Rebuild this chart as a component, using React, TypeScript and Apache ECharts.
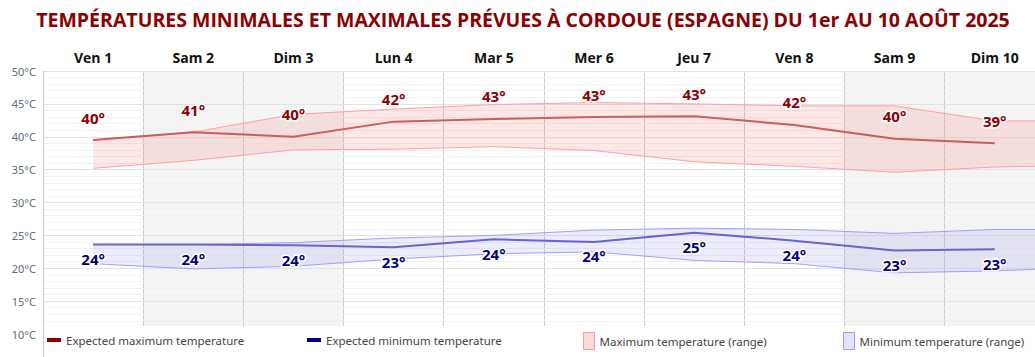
import React, { useEffect, useRef } from "react";
import * as echarts from "echarts";

const days = ["Ven 1", "Sam 2", "Dim 3", "Lun 4", "Mar 5", "Mer 6", "Jeu 7", "Ven 8", "Sam 9", "Dim 10", "Lun 11"];
const weekendColors = ["#ffffff", "#f4f4f4", "#f4f4f4", "#ffffff", "#ffffff", "#ffffff", "#ffffff", "#ffffff", "#f4f4f4", "#f4f4f4", "#ffffff"];

const maxExpected = [39.5, 40.7, 40.0, 42.3, 42.7, 43.0, 43.1, 41.8, 39.7, 39.0];
const maxLabels = [40, 41, 40, 42, 43, 43, 43, 42, 40, 39];
const maxRangeHigh = [39.5, 40.7, 43.4, 44.2, 44.9, 45.2, 45.0, 44.7, 44.7, 42.4, 42.4];
const maxRangeLow = [35.2, 36.4, 38.0, 38.1, 38.5, 37.9, 36.2, 35.5, 34.6, 35.4, 35.7];

const minExpected = [23.6, 23.6, 23.5, 23.2, 24.4, 24.0, 25.4, 24.2, 22.7, 22.9];
const minLabels = [24, 24, 24, 23, 24, 24, 25, 24, 23, 23];
const minRangeHigh = [23.6, 23.6, 23.9, 24.6, 25.0, 25.8, 26.1, 25.9, 25.3, 25.9, 25.9];
const minRangeLow = [20.7, 19.9, 20.3, 21.4, 22.2, 22.5, 21.2, 20.7, 19.3, 19.6, 20.2];

const yTicks = { min: 10, max: 50, interval: 5 };
const visibleDays = 10;

const TITLE = "TEMPÉRATURES MINIMALES ET MAXIMALES PRÉVUES À CORDOUE (ESPAGNE) DU 1er AU 10 AOÛT 2025";
const N_MAX = "Expected maximum temperature";
const N_MIN = "Expected minimum temperature";
const N_MAXR = "Maximum temperature (range)";
const N_MINR = "Minimum temperature (range)";

export default function App() {
  const ref = useRef<HTMLDivElement>(null);
  useEffect(() => {
    if (!ref.current) return;
    const chart = echarts.init(ref.current, null, { renderer: "svg" });
    const diff = (hi: number[], lo: number[]) => hi.map((v, i) => +(v - lo[i]).toFixed(2));
    const font = "Open Sans";
    const legendText = { fontFamily: "Noto Sans", fontSize: 11.5, color: "#444" };
    const option: any = {
      animation: false,
      backgroundColor: "#ffffff",
      title: {
        text: TITLE,
        left: 518,
        textAlign: "center",
        top: 4,
        textStyle: { fontFamily: font, fontSize: 19.5, fontWeight: "bold", color: "#8b0000" },
      },
      legend: [
        {
          left: 42, top: 329, z: 200, itemWidth: 14, itemHeight: 4, selectedMode: false,
          textStyle: legendText,
          data: [{ name: N_MAX, icon: "rect", itemStyle: { color: "#8b0000" } }],
        },
        {
          left: 302, top: 329, z: 200, itemWidth: 14, itemHeight: 4, selectedMode: false,
          textStyle: legendText,
          data: [{ name: N_MIN, icon: "rect", itemStyle: { color: "#00008b" } }],
        },
        {
          left: 578, top: 327, z: 200, itemWidth: 11, itemHeight: 17, selectedMode: false,
          textStyle: legendText,
          data: [{ name: N_MAXR, icon: "rect", itemStyle: { color: "#f9dada", borderColor: "#ff9999", borderWidth: 1 } }],
        },
        {
          left: 838, top: 327, z: 200, itemWidth: 11, itemHeight: 17, selectedMode: false,
          textStyle: legendText,
          data: [{ name: N_MINR, icon: "rect", itemStyle: { color: "#e2e2fa", borderColor: "#9999ff", borderWidth: 1 } }],
        },
      ],
      grid: { left: 43, top: 71, width: 1102, bottom: 23 },
      xAxis: {
        type: "category",
        position: "top",
        data: days,
        boundaryGap: true,
        z: 0,
        axisLine: { show: false },
        axisTick: { show: false },
        axisLabel: {
          interval: (i: number) => i < visibleDays,
          margin: 7, fontFamily: font, fontSize: 14, fontWeight: "bold", color: "#111",
        },
        splitLine: { show: true, interval: 0, lineStyle: { color: "#cccccc", width: 1 } },
        splitArea: { show: true, interval: 0, areaStyle: { color: weekendColors } },
      },
      yAxis: {
        type: "value",
        min: yTicks.min,
        max: yTicks.max,
        interval: yTicks.interval,
        z: 1,
        axisLine: { show: true, lineStyle: { color: "#cccccc" } },
        axisTick: { show: false },
        axisLabel: { formatter: "{value}°C", margin: 7, fontFamily: "Noto Sans", fontSize: 11, color: "#5f6b7a" },
        splitLine: { show: true, lineStyle: { color: "#e2e2e2", width: 1 } },
        minorTick: { show: false, splitNumber: 5 },
        minorSplitLine: { show: true, lineStyle: { color: "#f0f0f0", width: 1 } },
      },
      series: [
        {
          name: "maxLow", type: "line", stack: "max", data: maxRangeLow, symbol: "none",
          lineStyle: { color: "#ff9f9f", width: 1 }, z: 2, silent: true,
        },
        {
          name: N_MAXR, type: "line", stack: "max", data: diff(maxRangeHigh, maxRangeLow), symbol: "none",
          lineStyle: { color: "#ff9f9f", width: 1 }, areaStyle: { color: "rgba(250,120,120,0.25)" },
          itemStyle: { color: "#f9dada" }, z: 2, silent: true,
        },
        {
          name: "minLow", type: "line", stack: "min", data: minRangeLow, symbol: "none",
          lineStyle: { color: "#9f9fff", width: 1 }, z: 2, silent: true,
        },
        {
          name: N_MINR, type: "line", stack: "min", data: diff(minRangeHigh, minRangeLow), symbol: "none",
          lineStyle: { color: "#9f9fff", width: 1 }, areaStyle: { color: "rgba(120,120,240,0.2)" },
          itemStyle: { color: "#e2e2fa" }, z: 2, silent: true,
        },
        {
          name: N_MAX, type: "line", data: maxExpected, symbol: "circle", symbolSize: 0, showSymbol: true,
          lineStyle: { color: "#cd5c5c", width: 2 }, itemStyle: { color: "#8b0000" }, z: 5,
          label: {
            show: true, position: "top", distance: 15,
            formatter: (p: any) => maxLabels[p.dataIndex] + "°",
            fontFamily: font, fontSize: 15, fontWeight: "bold", color: "#8b0000",
            textBorderColor: "#ffffff", textBorderWidth: 3,
          },
        },
        {
          name: N_MIN, type: "line", data: minExpected, symbol: "circle", symbolSize: 0, showSymbol: true,
          lineStyle: { color: "#6666cc", width: 2 }, itemStyle: { color: "#00008b" }, z: 5,
          label: {
            show: true, position: "bottom", distance: 7,
            formatter: (p: any) => minLabels[p.dataIndex] + "°",
            fontFamily: font, fontSize: 15, fontWeight: "bold", color: "#000080",
            textBorderColor: "#ffffff", textBorderWidth: 3,
          },
        },
      ],
      graphic: [
        { type: "rect", z: 100, shape: { x: 44, y: 326, width: 1110, height: 31 }, style: { fill: "#ffffff" } },
        { type: "line", z: 100, shape: { x1: 43.5, y1: 330, x2: 43.5, y2: 357 }, style: { stroke: "#cccccc", lineWidth: 1 } },
      ],
    };
    chart.setOption(option);
    return () => chart.dispose();
  }, []);
  return (
    <div style={{ position: "absolute", left: 0, top: 0, width: 1035, height: 357, overflow: "hidden" }}>
      <div ref={ref} style={{ width: 1150, height: 357 }} />
    </div>
  );
}
